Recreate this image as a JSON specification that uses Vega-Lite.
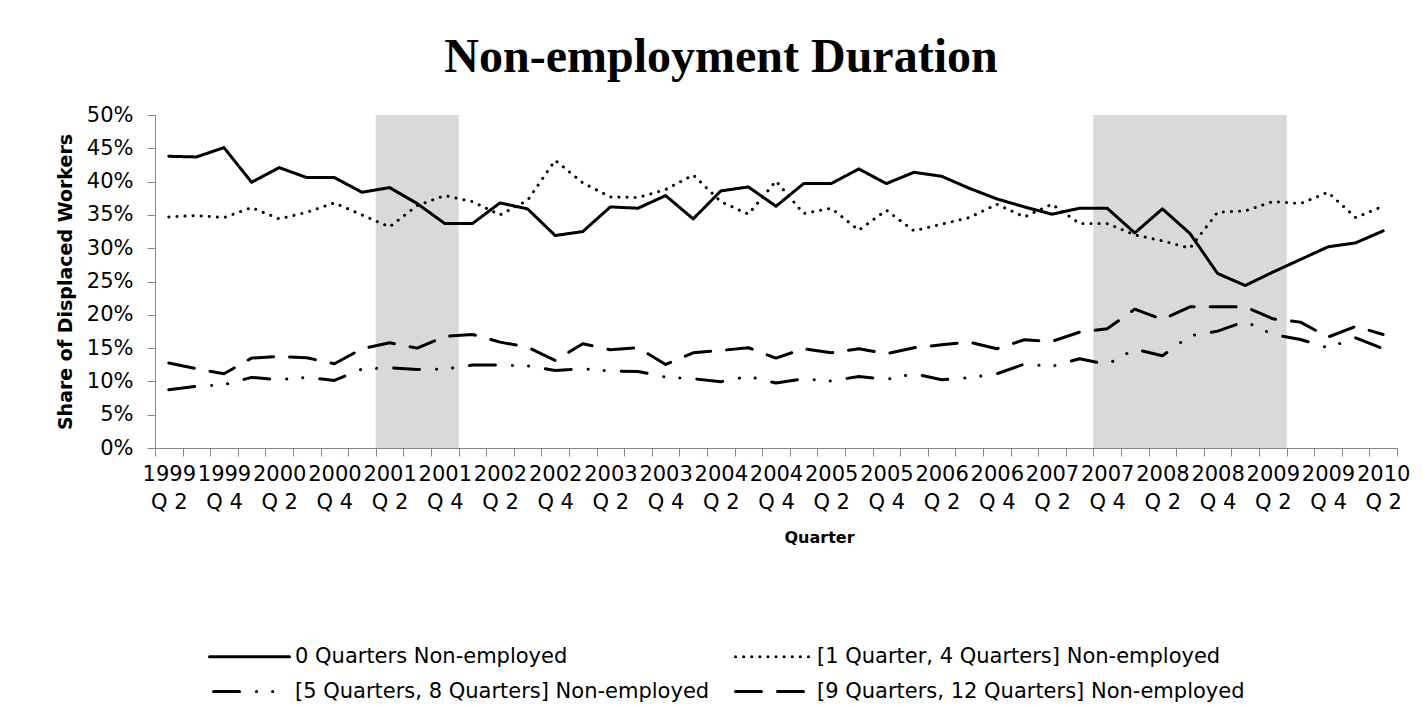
{
  "$schema": "https://vega.github.io/schema/vega-lite/v6.json",
  "width": 1242,
  "height": 333,
  "autosize": {"type": "none"},
  "padding": {"left": 155, "top": 115, "right": 26, "bottom": 258},
  "background": "white",
  "title": {
    "text": "Non-employment Duration",
    "font": "Liberation Serif",
    "fontWeight": "bold",
    "fontSize": 48,
    "color": "black",
    "anchor": "middle",
    "dx": -55,
    "offset": 22
  },
  "config": {
    "view": {"stroke": null},
    "axis": {
      "domainColor": "#868686",
      "tickColor": "#868686",
      "tickSize": 8,
      "grid": false,
      "labelFont": "DejaVu Sans",
      "labelFontSize": 21,
      "labelColor": "black",
      "titleFont": "DejaVu Sans",
      "titleFontWeight": "bold",
      "titleColor": "black"
    }
  },
  "datasets": {
    "recessions": [
      {"start": "2001 Q2", "end": "2002 Q1"},
      {"start": "2007 Q4", "end": "2009 Q3"}
    ],
    "shares": [
      {"q": "1999 Q2", "s": "0 Quarters Non-employed", "v": 0.438},
      {"q": "1999 Q3", "s": "0 Quarters Non-employed", "v": 0.437},
      {"q": "1999 Q4", "s": "0 Quarters Non-employed", "v": 0.451},
      {"q": "2000 Q1", "s": "0 Quarters Non-employed", "v": 0.399},
      {"q": "2000 Q2", "s": "0 Quarters Non-employed", "v": 0.421},
      {"q": "2000 Q3", "s": "0 Quarters Non-employed", "v": 0.406},
      {"q": "2000 Q4", "s": "0 Quarters Non-employed", "v": 0.406},
      {"q": "2001 Q1", "s": "0 Quarters Non-employed", "v": 0.384},
      {"q": "2001 Q2", "s": "0 Quarters Non-employed", "v": 0.391},
      {"q": "2001 Q3", "s": "0 Quarters Non-employed", "v": 0.367},
      {"q": "2001 Q4", "s": "0 Quarters Non-employed", "v": 0.337},
      {"q": "2002 Q1", "s": "0 Quarters Non-employed", "v": 0.337},
      {"q": "2002 Q2", "s": "0 Quarters Non-employed", "v": 0.368},
      {"q": "2002 Q3", "s": "0 Quarters Non-employed", "v": 0.359},
      {"q": "2002 Q4", "s": "0 Quarters Non-employed", "v": 0.319},
      {"q": "2003 Q1", "s": "0 Quarters Non-employed", "v": 0.325},
      {"q": "2003 Q2", "s": "0 Quarters Non-employed", "v": 0.362},
      {"q": "2003 Q3", "s": "0 Quarters Non-employed", "v": 0.360},
      {"q": "2003 Q4", "s": "0 Quarters Non-employed", "v": 0.379},
      {"q": "2004 Q1", "s": "0 Quarters Non-employed", "v": 0.344},
      {"q": "2004 Q2", "s": "0 Quarters Non-employed", "v": 0.386},
      {"q": "2004 Q3", "s": "0 Quarters Non-employed", "v": 0.392},
      {"q": "2004 Q4", "s": "0 Quarters Non-employed", "v": 0.363},
      {"q": "2005 Q1", "s": "0 Quarters Non-employed", "v": 0.397},
      {"q": "2005 Q2", "s": "0 Quarters Non-employed", "v": 0.397},
      {"q": "2005 Q3", "s": "0 Quarters Non-employed", "v": 0.419},
      {"q": "2005 Q4", "s": "0 Quarters Non-employed", "v": 0.397},
      {"q": "2006 Q1", "s": "0 Quarters Non-employed", "v": 0.414},
      {"q": "2006 Q2", "s": "0 Quarters Non-employed", "v": 0.408},
      {"q": "2006 Q3", "s": "0 Quarters Non-employed", "v": 0.390},
      {"q": "2006 Q4", "s": "0 Quarters Non-employed", "v": 0.374},
      {"q": "2007 Q1", "s": "0 Quarters Non-employed", "v": 0.362},
      {"q": "2007 Q2", "s": "0 Quarters Non-employed", "v": 0.351},
      {"q": "2007 Q3", "s": "0 Quarters Non-employed", "v": 0.360},
      {"q": "2007 Q4", "s": "0 Quarters Non-employed", "v": 0.360},
      {"q": "2008 Q1", "s": "0 Quarters Non-employed", "v": 0.323},
      {"q": "2008 Q2", "s": "0 Quarters Non-employed", "v": 0.359},
      {"q": "2008 Q3", "s": "0 Quarters Non-employed", "v": 0.322},
      {"q": "2008 Q4", "s": "0 Quarters Non-employed", "v": 0.262},
      {"q": "2009 Q1", "s": "0 Quarters Non-employed", "v": 0.244},
      {"q": "2009 Q2", "s": "0 Quarters Non-employed", "v": 0.264},
      {"q": "2009 Q3", "s": "0 Quarters Non-employed", "v": 0.283},
      {"q": "2009 Q4", "s": "0 Quarters Non-employed", "v": 0.302},
      {"q": "2010 Q1", "s": "0 Quarters Non-employed", "v": 0.308},
      {"q": "2010 Q2", "s": "0 Quarters Non-employed", "v": 0.326},

      {"q": "1999 Q2", "s": "[1 Quarter, 4 Quarters] Non-employed", "v": 0.347},
      {"q": "1999 Q3", "s": "[1 Quarter, 4 Quarters] Non-employed", "v": 0.349},
      {"q": "1999 Q4", "s": "[1 Quarter, 4 Quarters] Non-employed", "v": 0.346},
      {"q": "2000 Q1", "s": "[1 Quarter, 4 Quarters] Non-employed", "v": 0.361},
      {"q": "2000 Q2", "s": "[1 Quarter, 4 Quarters] Non-employed", "v": 0.344},
      {"q": "2000 Q3", "s": "[1 Quarter, 4 Quarters] Non-employed", "v": 0.354},
      {"q": "2000 Q4", "s": "[1 Quarter, 4 Quarters] Non-employed", "v": 0.368},
      {"q": "2001 Q1", "s": "[1 Quarter, 4 Quarters] Non-employed", "v": 0.350},
      {"q": "2001 Q2", "s": "[1 Quarter, 4 Quarters] Non-employed", "v": 0.332},
      {"q": "2001 Q3", "s": "[1 Quarter, 4 Quarters] Non-employed", "v": 0.364},
      {"q": "2001 Q4", "s": "[1 Quarter, 4 Quarters] Non-employed", "v": 0.379},
      {"q": "2002 Q1", "s": "[1 Quarter, 4 Quarters] Non-employed", "v": 0.370},
      {"q": "2002 Q2", "s": "[1 Quarter, 4 Quarters] Non-employed", "v": 0.350},
      {"q": "2002 Q3", "s": "[1 Quarter, 4 Quarters] Non-employed", "v": 0.372},
      {"q": "2002 Q4", "s": "[1 Quarter, 4 Quarters] Non-employed", "v": 0.432},
      {"q": "2003 Q1", "s": "[1 Quarter, 4 Quarters] Non-employed", "v": 0.398},
      {"q": "2003 Q2", "s": "[1 Quarter, 4 Quarters] Non-employed", "v": 0.377},
      {"q": "2003 Q3", "s": "[1 Quarter, 4 Quarters] Non-employed", "v": 0.376},
      {"q": "2003 Q4", "s": "[1 Quarter, 4 Quarters] Non-employed", "v": 0.388},
      {"q": "2004 Q1", "s": "[1 Quarter, 4 Quarters] Non-employed", "v": 0.410},
      {"q": "2004 Q2", "s": "[1 Quarter, 4 Quarters] Non-employed", "v": 0.370},
      {"q": "2004 Q3", "s": "[1 Quarter, 4 Quarters] Non-employed", "v": 0.351},
      {"q": "2004 Q4", "s": "[1 Quarter, 4 Quarters] Non-employed", "v": 0.401},
      {"q": "2005 Q1", "s": "[1 Quarter, 4 Quarters] Non-employed", "v": 0.352},
      {"q": "2005 Q2", "s": "[1 Quarter, 4 Quarters] Non-employed", "v": 0.360},
      {"q": "2005 Q3", "s": "[1 Quarter, 4 Quarters] Non-employed", "v": 0.327},
      {"q": "2005 Q4", "s": "[1 Quarter, 4 Quarters] Non-employed", "v": 0.357},
      {"q": "2006 Q1", "s": "[1 Quarter, 4 Quarters] Non-employed", "v": 0.326},
      {"q": "2006 Q2", "s": "[1 Quarter, 4 Quarters] Non-employed", "v": 0.336},
      {"q": "2006 Q3", "s": "[1 Quarter, 4 Quarters] Non-employed", "v": 0.346},
      {"q": "2006 Q4", "s": "[1 Quarter, 4 Quarters] Non-employed", "v": 0.366},
      {"q": "2007 Q1", "s": "[1 Quarter, 4 Quarters] Non-employed", "v": 0.347},
      {"q": "2007 Q2", "s": "[1 Quarter, 4 Quarters] Non-employed", "v": 0.366},
      {"q": "2007 Q3", "s": "[1 Quarter, 4 Quarters] Non-employed", "v": 0.337},
      {"q": "2007 Q4", "s": "[1 Quarter, 4 Quarters] Non-employed", "v": 0.337},
      {"q": "2008 Q1", "s": "[1 Quarter, 4 Quarters] Non-employed", "v": 0.320},
      {"q": "2008 Q2", "s": "[1 Quarter, 4 Quarters] Non-employed", "v": 0.311},
      {"q": "2008 Q3", "s": "[1 Quarter, 4 Quarters] Non-employed", "v": 0.300},
      {"q": "2008 Q4", "s": "[1 Quarter, 4 Quarters] Non-employed", "v": 0.354},
      {"q": "2009 Q1", "s": "[1 Quarter, 4 Quarters] Non-employed", "v": 0.356},
      {"q": "2009 Q2", "s": "[1 Quarter, 4 Quarters] Non-employed", "v": 0.370},
      {"q": "2009 Q3", "s": "[1 Quarter, 4 Quarters] Non-employed", "v": 0.367},
      {"q": "2009 Q4", "s": "[1 Quarter, 4 Quarters] Non-employed", "v": 0.384},
      {"q": "2010 Q1", "s": "[1 Quarter, 4 Quarters] Non-employed", "v": 0.346},
      {"q": "2010 Q2", "s": "[1 Quarter, 4 Quarters] Non-employed", "v": 0.363},

      {"q": "1999 Q2", "s": "[5 Quarters, 8 Quarters] Non-employed", "v": 0.0875},
      {"q": "1999 Q3", "s": "[5 Quarters, 8 Quarters] Non-employed", "v": 0.0925},
      {"q": "1999 Q4", "s": "[5 Quarters, 8 Quarters] Non-employed", "v": 0.095},
      {"q": "2000 Q1", "s": "[5 Quarters, 8 Quarters] Non-employed", "v": 0.106},
      {"q": "2000 Q2", "s": "[5 Quarters, 8 Quarters] Non-employed", "v": 0.1025},
      {"q": "2000 Q3", "s": "[5 Quarters, 8 Quarters] Non-employed", "v": 0.106},
      {"q": "2000 Q4", "s": "[5 Quarters, 8 Quarters] Non-employed", "v": 0.1015},
      {"q": "2001 Q1", "s": "[5 Quarters, 8 Quarters] Non-employed", "v": 0.1185},
      {"q": "2001 Q2", "s": "[5 Quarters, 8 Quarters] Non-employed", "v": 0.1205},
      {"q": "2001 Q3", "s": "[5 Quarters, 8 Quarters] Non-employed", "v": 0.118},
      {"q": "2001 Q4", "s": "[5 Quarters, 8 Quarters] Non-employed", "v": 0.1185},
      {"q": "2002 Q1", "s": "[5 Quarters, 8 Quarters] Non-employed", "v": 0.1245},
      {"q": "2002 Q2", "s": "[5 Quarters, 8 Quarters] Non-employed", "v": 0.1245},
      {"q": "2002 Q3", "s": "[5 Quarters, 8 Quarters] Non-employed", "v": 0.1235},
      {"q": "2002 Q4", "s": "[5 Quarters, 8 Quarters] Non-employed", "v": 0.1165},
      {"q": "2003 Q1", "s": "[5 Quarters, 8 Quarters] Non-employed", "v": 0.119},
      {"q": "2003 Q2", "s": "[5 Quarters, 8 Quarters] Non-employed", "v": 0.1155},
      {"q": "2003 Q3", "s": "[5 Quarters, 8 Quarters] Non-employed", "v": 0.115},
      {"q": "2003 Q4", "s": "[5 Quarters, 8 Quarters] Non-employed", "v": 0.1065},
      {"q": "2004 Q1", "s": "[5 Quarters, 8 Quarters] Non-employed", "v": 0.104},
      {"q": "2004 Q2", "s": "[5 Quarters, 8 Quarters] Non-employed", "v": 0.0995},
      {"q": "2004 Q3", "s": "[5 Quarters, 8 Quarters] Non-employed", "v": 0.1075},
      {"q": "2004 Q4", "s": "[5 Quarters, 8 Quarters] Non-employed", "v": 0.0975},
      {"q": "2005 Q1", "s": "[5 Quarters, 8 Quarters] Non-employed", "v": 0.104},
      {"q": "2005 Q2", "s": "[5 Quarters, 8 Quarters] Non-employed", "v": 0.1005},
      {"q": "2005 Q3", "s": "[5 Quarters, 8 Quarters] Non-employed", "v": 0.1075},
      {"q": "2005 Q4", "s": "[5 Quarters, 8 Quarters] Non-employed", "v": 0.103},
      {"q": "2006 Q1", "s": "[5 Quarters, 8 Quarters] Non-employed", "v": 0.1115},
      {"q": "2006 Q2", "s": "[5 Quarters, 8 Quarters] Non-employed", "v": 0.1025},
      {"q": "2006 Q3", "s": "[5 Quarters, 8 Quarters] Non-employed", "v": 0.1055},
      {"q": "2006 Q4", "s": "[5 Quarters, 8 Quarters] Non-employed", "v": 0.1115},
      {"q": "2007 Q1", "s": "[5 Quarters, 8 Quarters] Non-employed", "v": 0.126},
      {"q": "2007 Q2", "s": "[5 Quarters, 8 Quarters] Non-employed", "v": 0.1225},
      {"q": "2007 Q3", "s": "[5 Quarters, 8 Quarters] Non-employed", "v": 0.134},
      {"q": "2007 Q4", "s": "[5 Quarters, 8 Quarters] Non-employed", "v": 0.1255},
      {"q": "2008 Q1", "s": "[5 Quarters, 8 Quarters] Non-employed", "v": 0.1485},
      {"q": "2008 Q2", "s": "[5 Quarters, 8 Quarters] Non-employed", "v": 0.1385},
      {"q": "2008 Q3", "s": "[5 Quarters, 8 Quarters] Non-employed", "v": 0.1685},
      {"q": "2008 Q4", "s": "[5 Quarters, 8 Quarters] Non-employed", "v": 0.1755},
      {"q": "2009 Q1", "s": "[5 Quarters, 8 Quarters] Non-employed", "v": 0.190},
      {"q": "2009 Q2", "s": "[5 Quarters, 8 Quarters] Non-employed", "v": 0.1705},
      {"q": "2009 Q3", "s": "[5 Quarters, 8 Quarters] Non-employed", "v": 0.163},
      {"q": "2009 Q4", "s": "[5 Quarters, 8 Quarters] Non-employed", "v": 0.1505},
      {"q": "2010 Q1", "s": "[5 Quarters, 8 Quarters] Non-employed", "v": 0.1655},
      {"q": "2010 Q2", "s": "[5 Quarters, 8 Quarters] Non-employed", "v": 0.149},

      {"q": "1999 Q2", "s": "[9 Quarters, 12 Quarters] Non-employed", "v": 0.1275},
      {"q": "1999 Q3", "s": "[9 Quarters, 12 Quarters] Non-employed", "v": 0.119},
      {"q": "1999 Q4", "s": "[9 Quarters, 12 Quarters] Non-employed", "v": 0.1115},
      {"q": "2000 Q1", "s": "[9 Quarters, 12 Quarters] Non-employed", "v": 0.135},
      {"q": "2000 Q2", "s": "[9 Quarters, 12 Quarters] Non-employed", "v": 0.1375},
      {"q": "2000 Q3", "s": "[9 Quarters, 12 Quarters] Non-employed", "v": 0.1355},
      {"q": "2000 Q4", "s": "[9 Quarters, 12 Quarters] Non-employed", "v": 0.1265},
      {"q": "2001 Q1", "s": "[9 Quarters, 12 Quarters] Non-employed", "v": 0.149},
      {"q": "2001 Q2", "s": "[9 Quarters, 12 Quarters] Non-employed", "v": 0.158},
      {"q": "2001 Q3", "s": "[9 Quarters, 12 Quarters] Non-employed", "v": 0.150},
      {"q": "2001 Q4", "s": "[9 Quarters, 12 Quarters] Non-employed", "v": 0.1675},
      {"q": "2002 Q1", "s": "[9 Quarters, 12 Quarters] Non-employed", "v": 0.1705},
      {"q": "2002 Q2", "s": "[9 Quarters, 12 Quarters] Non-employed", "v": 0.159},
      {"q": "2002 Q3", "s": "[9 Quarters, 12 Quarters] Non-employed", "v": 0.1515},
      {"q": "2002 Q4", "s": "[9 Quarters, 12 Quarters] Non-employed", "v": 0.1315},
      {"q": "2003 Q1", "s": "[9 Quarters, 12 Quarters] Non-employed", "v": 0.1565},
      {"q": "2003 Q2", "s": "[9 Quarters, 12 Quarters] Non-employed", "v": 0.1475},
      {"q": "2003 Q3", "s": "[9 Quarters, 12 Quarters] Non-employed", "v": 0.1505},
      {"q": "2003 Q4", "s": "[9 Quarters, 12 Quarters] Non-employed", "v": 0.1255},
      {"q": "2004 Q1", "s": "[9 Quarters, 12 Quarters] Non-employed", "v": 0.143},
      {"q": "2004 Q2", "s": "[9 Quarters, 12 Quarters] Non-employed", "v": 0.1465},
      {"q": "2004 Q3", "s": "[9 Quarters, 12 Quarters] Non-employed", "v": 0.1505},
      {"q": "2004 Q4", "s": "[9 Quarters, 12 Quarters] Non-employed", "v": 0.135},
      {"q": "2005 Q1", "s": "[9 Quarters, 12 Quarters] Non-employed", "v": 0.149},
      {"q": "2005 Q2", "s": "[9 Quarters, 12 Quarters] Non-employed", "v": 0.143},
      {"q": "2005 Q3", "s": "[9 Quarters, 12 Quarters] Non-employed", "v": 0.149},
      {"q": "2005 Q4", "s": "[9 Quarters, 12 Quarters] Non-employed", "v": 0.1415},
      {"q": "2006 Q1", "s": "[9 Quarters, 12 Quarters] Non-employed", "v": 0.1505},
      {"q": "2006 Q2", "s": "[9 Quarters, 12 Quarters] Non-employed", "v": 0.155},
      {"q": "2006 Q3", "s": "[9 Quarters, 12 Quarters] Non-employed", "v": 0.159},
      {"q": "2006 Q4", "s": "[9 Quarters, 12 Quarters] Non-employed", "v": 0.149},
      {"q": "2007 Q1", "s": "[9 Quarters, 12 Quarters] Non-employed", "v": 0.1625},
      {"q": "2007 Q2", "s": "[9 Quarters, 12 Quarters] Non-employed", "v": 0.160},
      {"q": "2007 Q3", "s": "[9 Quarters, 12 Quarters] Non-employed", "v": 0.174},
      {"q": "2007 Q4", "s": "[9 Quarters, 12 Quarters] Non-employed", "v": 0.179},
      {"q": "2008 Q1", "s": "[9 Quarters, 12 Quarters] Non-employed", "v": 0.2085},
      {"q": "2008 Q2", "s": "[9 Quarters, 12 Quarters] Non-employed", "v": 0.193},
      {"q": "2008 Q3", "s": "[9 Quarters, 12 Quarters] Non-employed", "v": 0.212},
      {"q": "2008 Q4", "s": "[9 Quarters, 12 Quarters] Non-employed", "v": 0.212},
      {"q": "2009 Q1", "s": "[9 Quarters, 12 Quarters] Non-employed", "v": 0.212},
      {"q": "2009 Q2", "s": "[9 Quarters, 12 Quarters] Non-employed", "v": 0.194},
      {"q": "2009 Q3", "s": "[9 Quarters, 12 Quarters] Non-employed", "v": 0.189},
      {"q": "2009 Q4", "s": "[9 Quarters, 12 Quarters] Non-employed", "v": 0.1665},
      {"q": "2010 Q1", "s": "[9 Quarters, 12 Quarters] Non-employed", "v": 0.1825},
      {"q": "2010 Q2", "s": "[9 Quarters, 12 Quarters] Non-employed", "v": 0.1705}
    ]
  },
  "layer": [
    {
      "data": {"name": "recessions"},
      "mark": {"type": "rect", "color": "#D9D9D9"},
      "encoding": {
        "x": {
          "field": "start",
          "type": "ordinal",
          "bandPosition": 0,
          "scale": {"type": "band", "paddingInner": 0, "paddingOuter": 0},
          "axis": {
            "title": "Quarter",
            "titleFontSize": 16,
            "titlePadding": 17,
            "titleX": 664,
            "tickBand": "extent",
            "labelAngle": 0,
            "labelPadding": 7,
            "labelOverlap": false,
            "labelFlush": false,
            "labelBound": false,
            "labelLineHeight": 28,
            "labelBaseline": "top",
            "labelExpr": "test(/Q[24]$/, datum.value) ? [substring(datum.value, 0, 4), 'Q ' + substring(datum.value, 6)] : ''"
          }
        },
        "x2": {"field": "end", "bandPosition": 0}
      }
    },
    {
      "data": {"name": "shares"},
      "mark": {"type": "line", "color": "black", "strokeWidth": 3, "strokeCap": "round", "strokeJoin": "round"},
      "encoding": {
        "x": {
          "field": "q",
          "type": "ordinal",
          "scale": {"type": "band", "paddingInner": 0, "paddingOuter": 0}
        },
        "y": {
          "field": "v",
          "type": "quantitative",
          "scale": {"domain": [0, 0.5], "nice": false, "zero": true},
          "axis": {
            "title": "Share of Displaced Workers",
            "titleFontSize": 19,
            "titlePadding": 11,
            "values": [0, 0.05, 0.1, 0.15, 0.2, 0.25, 0.3, 0.35, 0.4, 0.45, 0.5],
            "format": ".0%",
            "labelPadding": 14
          }
        },
        "strokeDash": {
          "field": "s",
          "type": "nominal",
          "scale": {
            "domain": [
              "0 Quarters Non-employed",
              "[1 Quarter, 4 Quarters] Non-employed",
              "[5 Quarters, 8 Quarters] Non-employed",
              "[9 Quarters, 12 Quarters] Non-employed"
            ],
            "range": [[1, 0], [0.1, 8], [26, 17, 0.1, 16, 0.1, 17], [26, 16]]
          },
          "legend": {
            "title": null,
            "orient": "none",
            "direction": "horizontal",
            "legendX": 83,
            "legendY": 530,
            "columns": 2,
            "columnPadding": 15,
            "rowPadding": 13,
            "symbolType": "M-4,0H4",
            "symbolSize": 400,
            "symbolStrokeWidth": 3,
            "symbolStrokeColor": "black",
            "symbolFillColor": "transparent",
            "symbolDashOffset": -4,
            "labelFont": "DejaVu Sans",
            "labelFontSize": 21,
            "labelColor": "black",
            "labelOffset": 34,
            "labelLimit": 0,
            "encode": {
              "symbols": {"update": {"strokeCap": {"value": "round"}}}
            }
          }
        }
      }
    }
  ]
}
